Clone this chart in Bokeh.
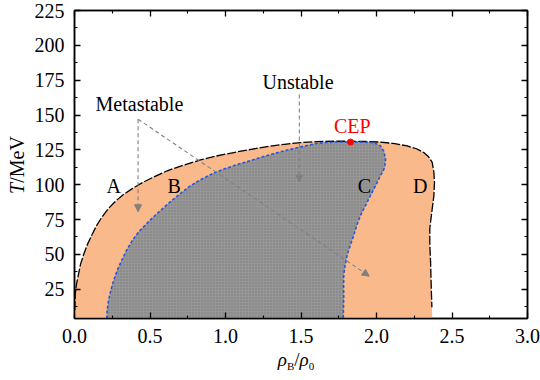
from bokeh.plotting import figure
from bokeh.layouts import row, column
from bokeh.models import (FixedTicker, PrintfTickFormatter, LinearAxis, Label,
                          Arrow, NormalHead, Range1d, Div)
from bokeh.embed import file_html
from bokeh.resources import INLINE

# ---- data ----
# outer boundary (curves A and D): T/MeV vs rho_B/rho_0
outer_x = [0.0, 0.002, 0.005, 0.013, 0.026, 0.04, 0.06, 0.085, 0.115, 0.145, 0.18,
           0.225, 0.27, 0.32, 0.38, 0.45, 0.534, 0.614, 0.72, 0.834, 0.94, 1.055,
           1.17, 1.276, 1.39, 1.497, 1.607, 1.72, 1.83, 1.93, 2.026, 2.12, 2.203,
           2.265, 2.313, 2.345, 2.369, 2.38, 2.384, 2.38, 2.369, 2.36, 2.353, 2.353,
           2.358, 2.361, 2.364, 2.367, 2.37]
outer_T = [4, 10, 21.3, 28.5, 35.5, 43, 49.7, 57, 63.9, 70.5, 76.5,
           83, 88, 92.6, 97, 101.5, 106, 110, 114, 117.8, 120.6, 123.1,
           125.4, 127.4, 129, 130.2, 130.9, 131.2, 131.2, 131, 130.6, 129.5, 127.8,
           125.8, 123.1, 120, 116, 109, 101.8, 92, 82.8, 75, 68.6, 57,
           45, 33, 21.3, 12, 4]
# inner boundary (curves B and C)
inner_x = [0.214, 0.216, 0.225, 0.24, 0.258, 0.283, 0.313, 0.345, 0.38, 0.42, 0.468,
           0.52, 0.578, 0.63, 0.68, 0.755, 0.834, 0.91, 0.989, 1.075, 1.166, 1.27,
           1.386, 1.50, 1.607, 1.72, 1.828, 1.91, 1.98, 2.025, 2.048, 2.06, 2.055,
           2.045, 2.026, 1.995, 1.96, 1.927, 1.894, 1.87, 1.85, 1.826, 1.806, 1.792,
           1.783, 1.782, 1.783, 1.781, 1.78]
inner_T = [4, 10, 16.6, 24, 30.8, 38.5, 45.8, 53, 59.5, 65.5, 71,
           76.6, 82.3, 87.3, 91.8, 98.3, 103.6, 107.7, 111.2, 114.4, 117.3, 120.8,
           124.2, 127.2, 129.7, 130.6, 130.6, 130.5, 130.2, 128, 124.2, 118.3, 113,
           110, 106.5, 99.5, 92.3, 85, 78, 71, 63.9, 56.5, 49.7, 42,
           35.5, 27, 18.9, 11, 4]
cep_x = [1.828]
cep_T = [130.6]

x_ticks = [0.0, 0.5, 1.0, 1.5, 2.0, 2.5, 3.0]
x_minor = [0.25, 0.75, 1.25, 1.75, 2.25, 2.75]
y_ticks = [25, 50, 75, 100, 125, 150, 175, 200, 225]
y_minor = [12.5, 37.5, 62.5, 87.5, 112.5, 137.5, 162.5, 187.5, 212.5]

region_labels = ["A", "B", "C", "D"]
region_x = [0.26, 0.66, 1.92, 2.29]
region_T = [99, 99, 99, 99]

FONT = "Liberation Serif"
ORANGE = "#F9B98A"
GREY = "#8c8c8c"
ARROW_C = "#808080"

p = figure(width=510, height=345, output_backend="svg", toolbar_location=None,
           x_range=Range1d(0, 3), y_range=Range1d(4, 225),
           min_border_left=44, min_border_right=13, min_border_top=10,
           min_border_bottom=24, margin=(0, 0, 0, 0))
p.background_fill_color = "white"
p.border_fill_color = "white"
p.outline_line_color = "black"
p.outline_line_width = 1.5
p.grid.visible = False

# regions
p.patch(outer_x, outer_T, fill_color=ORANGE, line_color=None)
p.patch(inner_x, inner_T, fill_color=GREY, line_color=None,
        hatch_pattern="cross", hatch_color="#9c9c9c", hatch_scale=3, hatch_weight=0.6)
p.line(outer_x[1:-1], outer_T[1:-1], line_color="black", line_width=1.3, line_dash="9 2")
p.line(inner_x, inner_T, line_color="#2456e0", line_width=1.6, line_dash="3 2")
p.scatter(cep_x, cep_T, size=6, color="red", line_color="red")

# axes
def style_axis(ax, ticks, minor, labels=True, fmt="%d"):
    ax.ticker = FixedTicker(ticks=ticks, minor_ticks=minor)
    ax.formatter = PrintfTickFormatter(format=fmt)
    ax.axis_line_color = "black"
    ax.axis_line_width = 1.5
    ax.major_tick_line_width = 1.3
    ax.minor_tick_line_width = 1.1
    ax.major_tick_in = 6
    ax.major_tick_out = 0
    ax.minor_tick_in = 3
    ax.minor_tick_out = 0
    ax.major_label_text_font = FONT
    if labels:
        ax.major_label_text_color = "black"
        ax.major_label_text_font_size = "20px"
        ax.major_label_standoff = 10
    else:
        ax.major_label_text_color = None
        ax.major_label_text_font_size = "0px"
        ax.major_label_standoff = 0

style_axis(p.xaxis[0], x_ticks, x_minor, fmt="%.1f")
style_axis(p.yaxis[0], y_ticks, y_minor, fmt="%d")
top = LinearAxis()
style_axis(top, x_ticks, x_minor, labels=False)
p.add_layout(top, "above")
right = LinearAxis()
style_axis(right, y_ticks, y_minor, labels=False)
p.add_layout(right, "right")

# region labels
for t, xx, yy in zip(region_labels, region_x, region_T):
    p.add_layout(Label(x=xx, y=yy, text=t, text_font=FONT, text_font_size="20px",
                       text_align="center", text_baseline="middle", text_color="black"))
p.add_layout(Label(x=1.84, y=142, text="CEP", text_font=FONT, text_font_size="20px",
                   text_align="center", text_baseline="middle", text_color="red"))
p.add_layout(Label(x=0.43, y=158, text="Metastable", text_font=FONT, text_font_size="20px",
                   text_align="center", text_baseline="middle", text_color="black"))
p.add_layout(Label(x=1.48, y=174, text="Unstable", text_font=FONT, text_font_size="20px",
                   text_align="center", text_baseline="middle", text_color="black"))

# arrows
def arrow(x0, y0, x1, y1):
    end = NormalHead(size=7, fill_color=ARROW_C, line_color=ARROW_C)
    p.add_layout(Arrow(end=end, x_start=x0, y_start=y0, x_end=x1, y_end=y1,
                       line_color=ARROW_C, line_width=1.1, line_dash="4 3"))

arrow(0.421, 147, 0.421, 80.6)
arrow(0.421, 147, 1.952, 34.4)
arrow(1.489, 164.7, 1.489, 101.9)

# axis titles as HTML (mixed italic / roman, subscripts)
TXT = "font-family:'Liberation Serif',serif;color:black;line-height:1;white-space:nowrap;"
ydiv = Div(width=30, height=345, margin=(0, 0, 0, 0), text=(
    '<div style="position:relative;width:30px;height:345px;">'
    '<span style="position:absolute;left:17px;top:165px;font-size:20px;' + TXT +
    'transform:translate(-50%,-50%) rotate(-90deg);"><i>T</i>/MeV</span></div>'))
xdiv = Div(width=540, height=35, margin=(0, 0, 0, 0), text=(
    '<div style="position:relative;width:540px;height:35px;">'
    '<span style="position:absolute;left:296px;top:5px;font-size:19px;' + TXT +
    'transform:translateX(-50%);"><i>\u03c1</i>'
    '<span style="font-size:11px;position:relative;top:4px;">B</span>/'
    '<i>\u03c1</i><span style="font-size:11px;position:relative;top:4px;">0</span>'
    '</span></div>'))

layout = column(row(ydiv, p, spacing=0, margin=(0, 0, 0, 0)), xdiv,
                spacing=0, margin=(0, 0, 0, 0))
open("out.html", "w").write(file_html(layout, INLINE))
